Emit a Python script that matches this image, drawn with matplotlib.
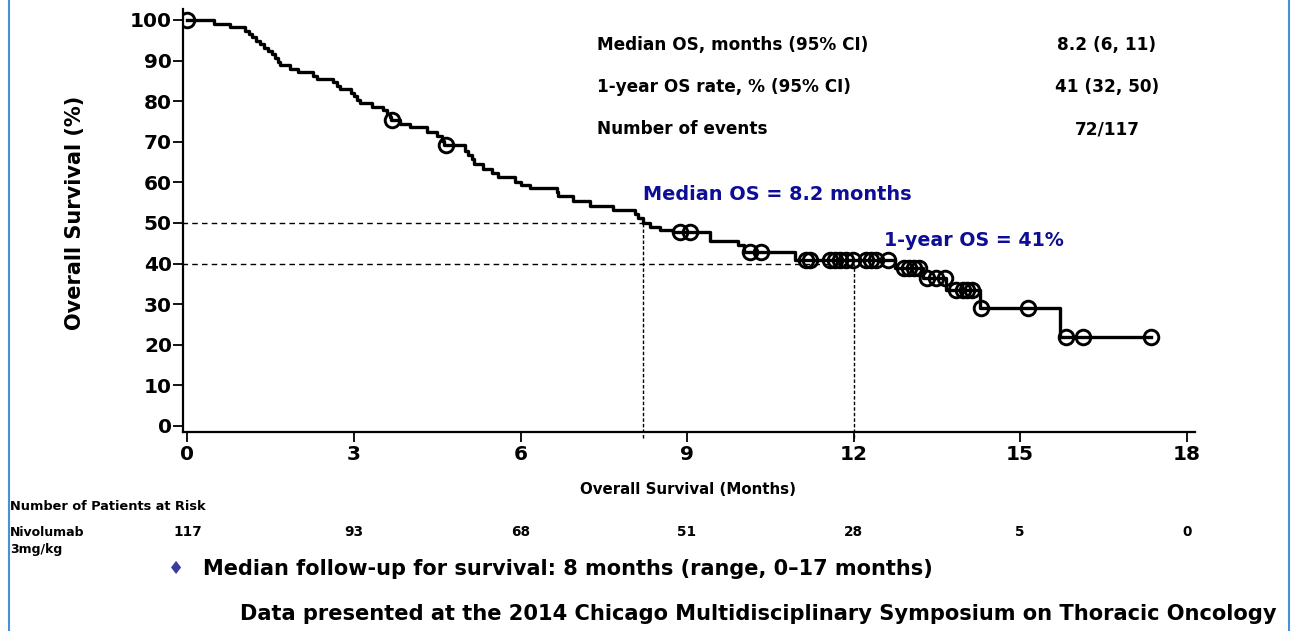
import numpy as np
import matplotlib
matplotlib.use("Agg")
import matplotlib.pyplot as plt
from matplotlib.lines import Line2D

# Kaplan-Meier steps (months, % surviving)
event_t = [0, 0.47, 0.77, 1.03, 1.10, 1.17, 1.24, 1.31, 1.38, 1.45, 1.52, 1.58, 1.63, 1.67,
           1.85, 2.00, 2.27, 2.33, 2.63, 2.70, 2.75, 2.95, 3.00, 3.06, 3.11, 3.32, 3.53, 3.60,
           3.64, 3.66, 3.83, 4.01, 4.31, 4.49, 4.58, 4.63, 5.00, 5.06, 5.12, 5.17, 5.33, 5.48,
           5.60, 5.90, 6.00, 6.17, 6.65, 6.68, 6.95, 7.25, 7.67, 8.06, 8.12, 8.20, 8.33, 8.51,
           8.75, 9.41, 9.92, 10.02, 10.94, 12.74, 13.25, 13.67, 14.27, 15.71]
event_s = [100, 99.1, 98.3, 97.4, 96.6, 95.7, 94.9, 94.0, 93.2, 92.3, 91.5, 90.6, 89.7, 88.9,
           88.0, 87.2, 86.3, 85.5, 84.6, 83.8, 82.9, 82.0, 81.2, 80.3, 79.5, 78.6, 77.8, 76.9,
           76.1, 75.3, 74.4, 73.6, 72.3, 71.3, 70.3, 69.3, 67.6, 66.7, 65.8, 64.6, 63.3, 62.3,
           61.2, 60.2, 59.4, 58.5, 57.6, 56.6, 55.4, 54.1, 53.3, 52.1, 51.2, 49.9, 49.1, 48.3,
           47.8, 45.6, 44.6, 42.9, 40.9, 38.8, 36.5, 33.5, 29.1, 21.8]
censor_t = [0, 3.68, 4.66, 8.87, 9.05, 10.13, 10.34, 11.15, 11.21, 11.57, 11.66, 11.75, 11.87,
            11.99, 12.23, 12.32, 12.41, 12.62, 12.90, 12.99, 13.08, 13.17, 13.32, 13.49, 13.64,
            13.85, 13.97, 14.05, 14.14, 14.29, 15.14, 15.83, 16.14, 17.35]
end_t = 17.35

risk_t = [0, 3, 6, 9, 12, 15, 18]
risk_n = [117, 93, 68, 51, 28, 5, 0]

median_os = 8.2
one_year = 12
one_year_os = 41

table_rows = ["Median OS, months (95% CI)", "1-year OS rate, % (95% CI)", "Number of events"]
table_vals = ["8.2 (6, 11)", "41 (32, 50)", "72/117"]

navy = "#0d0d96"
W, H = 1291, 631

fig = plt.figure(figsize=(W / 100, H / 100), dpi=100)
ax = fig.add_axes([183 / W, 1 - 432 / H, (1195 - 183) / W, (432 - 9) / H])

# step curve
xs = list(event_t) + [end_t]
ys = list(event_s) + [event_s[-1]]
ax.plot(xs, ys, drawstyle="steps-post", color="black", lw=2.4, zorder=3)

# censor marks sit on the curve
idx = np.searchsorted(event_t, censor_t, side="right") - 1
censor_s = np.array(event_s)[idx]
ax.plot(censor_t, censor_s, "o", ms=10.5, mfc="none", mec="black", mew=2.1, zorder=4)

# reference lines for median and 1-year
ax.plot([-0.1, median_os], [50, 50], ls=(0, (4, 3)), color="black", lw=1)
ax.plot([-0.1, one_year], [one_year_os - 1, one_year_os - 1], ls=(0, (4, 3)), color="black", lw=1)
ax.plot([median_os, median_os], [-3, 50], ls=(0, (2.5, 1.5)), color="black", lw=1, clip_on=False)
ax.plot([one_year, one_year], [-3, one_year_os - 1], ls=(0, (2.5, 1.5)), color="black", lw=1,
        clip_on=False)

ax.set_xlim(-0.08, 18.15)
ax.set_ylim(-1.5, 102.7)
ax.set_xticks(risk_t)
ax.set_yticks(range(0, 101, 10))
for s in ["top", "right"]:
    ax.spines[s].set_visible(False)
for s in ["left", "bottom"]:
    ax.spines[s].set_linewidth(1.6)
ax.tick_params(axis="both", width=1.3, length=7, labelsize=14.5)
ax.tick_params(axis="x", pad=2)
ax.tick_params(axis="y", pad=1)
for lab in ax.get_xticklabels() + ax.get_yticklabels():
    lab.set_fontweight("bold")

fig.text(75 / W, 1 - 213 / H, "Overall Survival (%)", rotation=90, ha="center", va="center",
         fontsize=15, fontweight="bold")
fig.text(688 / W, 1 - 489 / H, "Overall Survival (Months)", ha="center", va="center",
         fontsize=10.8, fontweight="bold")

# summary table
for i, (r, v) in enumerate(zip(table_rows, table_vals)):
    yy = 1 - (45 + 42 * i) / H
    fig.text(597 / W, yy, r, ha="left", va="center", fontsize=12.2, fontweight="bold")
    fig.text(1107 / W, yy, v, ha="center", va="center", fontsize=12.2, fontweight="bold")

fig.text(643 / W, 1 - 195 / H, "Median OS = 8.2 months", ha="left", va="center",
         fontsize=13.9, fontweight="bold", color=navy)
fig.text(884 / W, 1 - 240 / H, "1-year OS = 41%", ha="left", va="center",
         fontsize=13.7, fontweight="bold", color=navy)

# patients at risk
fig.text(10 / W, 1 - 507 / H, "Number of Patients at Risk", ha="left", va="center",
         fontsize=9.3, fontweight="bold")
fig.text(10 / W, 1 - 532 / H, "Nivolumab", ha="left", va="center",
         fontsize=9, fontweight="bold")
fig.text(10 / W, 1 - 549 / H, "3mg/kg", ha="left", va="center",
         fontsize=9, fontweight="bold")
for t, n in zip(risk_t, risk_n):
    ax.annotate(str(n), xy=(t, 0), xycoords=("data", "figure fraction"),
                xytext=(0, H - 532), textcoords="offset pixels",
                ha="center", va="center", fontsize=9.8, fontweight="bold")

fig.text(176 / W, 1 - 569 / H, "\u2666", ha="center", va="center", fontsize=13, color="#3b3b9e")
fig.text(203 / W, 1 - 569 / H, "Median follow-up for survival: 8 months (range, 0\u201317 months)",
         ha="left", va="center", fontsize=15, fontweight="bold")
fig.text(1277 / W, 1 - 614 / H,
         "Data presented at the 2014 Chicago Multidisciplinary Symposium on Thoracic Oncology",
         ha="right", va="center", fontsize=15.1, fontweight="bold")

# slide border
for xb in [9, 1289]:
    fig.add_artist(Line2D([xb / W, xb / W], [0, 1], color="#4a90d9", lw=1.5))

fig.savefig("out.png", dpi=100)
